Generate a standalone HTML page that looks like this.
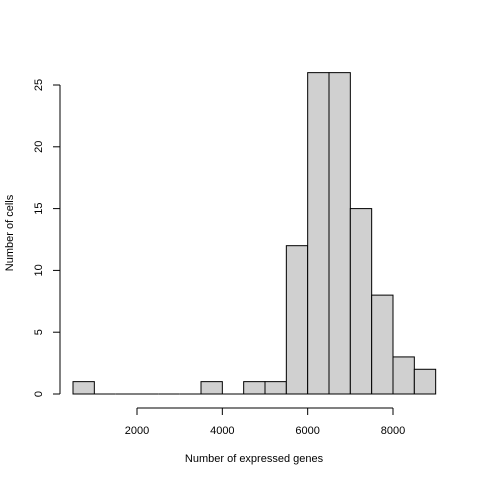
<!DOCTYPE html>
<html><head><meta charset="utf-8"><style>
body{margin:0;background:#fff}
svg text{font-family:"Liberation Sans",sans-serif;font-size:11px;fill:#000}
</style></head><body>
<svg id="c" width="480" height="480"></svg>
<script>
const binStarts=[500,1000,1500,2000,2500,3000,3500,4000,4500,5000,5500,6000,6500,7000,7500,8000,8500];
const counts=[1,0,0,0,0,0,1,0,1,1,12,26,26,15,8,3,2];
const xTicks=[2000,4000,6000,8000];
const yTicks=[0,5,10,15,20,25];
const binWidth=500;
const NS="http://www.w3.org/2000/svg";
const svg=document.getElementById('c');
const X=v=>137+(v-2000)*256/6000;
const Y=v=>394-v*309/25;
function el(t,a){const e=document.createElementNS(NS,t);for(const k in a)e.setAttribute(k,a[k]);svg.appendChild(e);return e;}
binStarts.forEach((b,i)=>{
  let r;
  if(counts[i]===0){
    r=el('line',{x1:X(b),x2:X(b+binWidth),y1:Y(0),y2:Y(0),stroke:'#000','stroke-width':1});
  } else {
    r=el('rect',{x:X(b),y:Y(counts[i]),width:X(b+binWidth)-X(b),height:Y(0)-Y(counts[i]),fill:'#d0d0d0',stroke:'#000','stroke-width':1});
  }
  
  
});
let a=el('line',{x1:X(xTicks[0]),x2:X(xTicks[xTicks.length-1]),y1:408,y2:408,stroke:'#000'});


xTicks.forEach(t=>{
  el('line',{x1:X(t),x2:X(t),y1:408,y2:415,stroke:'#000'});
  const tx=el('text',{x:X(t),y:434,'text-anchor':'middle'});tx.textContent=t;
  
  
});
let b=el('line',{x1:60,x2:60,y1:Y(yTicks[0]),y2:Y(yTicks[yTicks.length-1]),stroke:'#000'});


yTicks.forEach(t=>{
  el('line',{x1:53,x2:60,y1:Y(t),y2:Y(t),stroke:'#000'});
  const tx=el('text',{x:42,y:Y(t),'text-anchor':'middle',transform:`rotate(-90 42 ${Y(t)})`});tx.textContent=t;
  
  
});
let xt=el('text',{x:254,y:462,'text-anchor':'middle'});xt.textContent='Number of expressed genes';


let yt=el('text',{x:13,y:233,'text-anchor':'middle',transform:'rotate(-90 13 233)'});yt.textContent='Number of cells';


</script>
</body></html>
